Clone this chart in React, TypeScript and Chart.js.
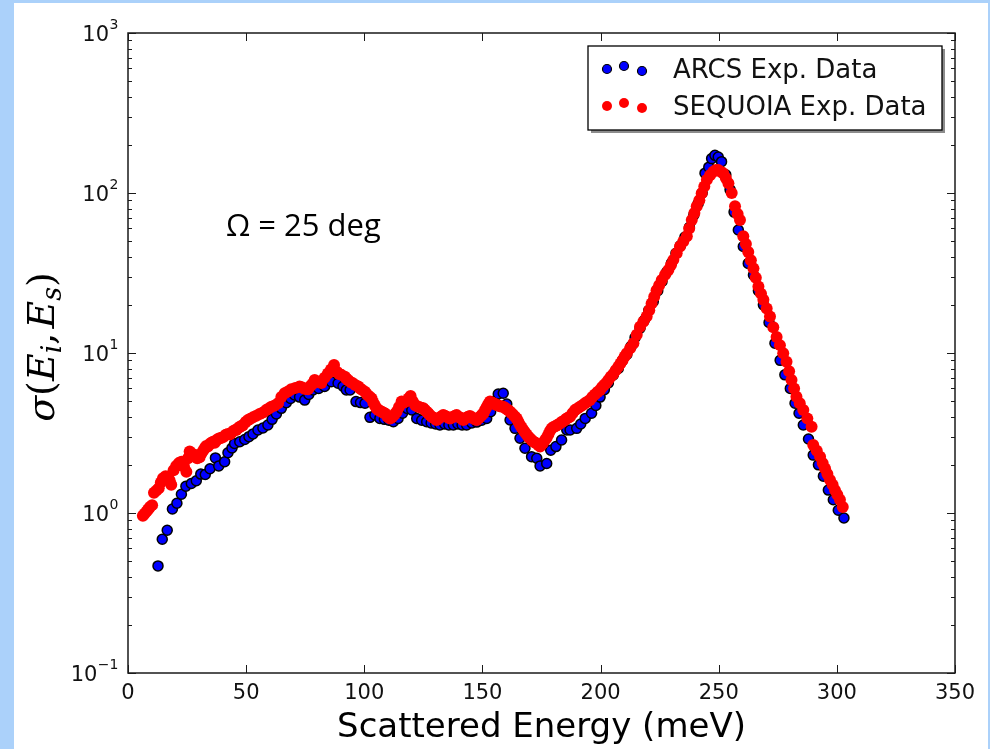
import React, { useEffect, useRef } from 'react';
import { Chart, registerables } from 'chart.js';

Chart.register(...registerables);

// ARCS experimental data (scattered energy meV, cross section)
const arcsEnergy = [
  12.7, 14.5, 16.6, 18.8, 20.7, 22.6, 24.5, 26.8, 28.9, 30.8, 32.7, 34.7, 37.0, 38.4, 40.9, 42.3, 44.0, 45.1, 47.3, 49.4,
  51.2, 52.9, 55.0, 57.1, 59.2, 61.0, 62.8, 64.9, 67.0, 68.8, 70.5, 72.6, 74.8, 76.5, 78.3, 80.7, 83.2, 86.0, 88.9, 91.0,
  92.4, 94.0, 96.5, 98.4, 100.3, 102.4, 104.5, 106.6, 108.5, 110.4, 112.3, 114.3, 116.2, 118.2, 120.1, 122.2, 124.3, 126.4, 128.3, 130.2,
  132.0, 134.0, 135.8, 137.7, 139.6, 141.4, 143.3, 145.5, 147.6, 149.7, 151.8, 153.5, 155.0, 156.7, 158.8, 160.3, 161.7, 163.8, 165.9, 168.0,
  170.8, 173.0, 174.4, 177.2, 178.9, 181.1, 183.5, 185.7, 187.1, 189.9, 191.6, 193.5, 196.2, 198.0, 199.8, 201.6, 203.3, 205.4, 207.5, 209.3,
  211.1, 212.9, 214.6, 216.7, 218.5, 220.4, 222.3, 224.2, 226.0, 228.0, 230.0, 231.9, 233.8, 235.7, 237.6, 239.5, 241.3, 243.0, 244.2, 245.8,
  247.0, 248.4, 249.8, 251.2, 253.0, 254.8, 256.5, 258.3, 260.4, 262.5, 264.7, 266.8, 268.9, 271.3, 273.8, 276.0, 278.0, 280.3, 282.3, 284.0,
  285.8, 288.0, 290.0, 292.2, 294.3, 296.4, 298.5, 300.6, 303.0,
];
const arcsSigma = [
  0.467, 0.685, 0.78, 1.06, 1.15, 1.31, 1.47, 1.53, 1.59, 1.75, 1.74, 1.89, 2.21, 1.97, 2.09, 2.38, 2.55, 2.72, 2.79, 2.88,
  3.0, 3.12, 3.3, 3.4, 3.55, 3.85, 4.16, 4.51, 4.89, 5.2, 5.46, 5.3, 5.08, 5.5, 5.88, 6.0, 6.17, 6.62, 6.47, 6.2,
  5.88, 5.88, 4.97, 4.9, 4.85, 3.96, 4.1, 3.9, 3.85, 3.8, 3.72, 3.9, 4.2, 4.5, 4.4, 3.9, 3.8, 3.72, 3.65, 3.6,
  3.55, 3.6, 3.55, 3.55, 3.6, 3.55, 3.55, 3.65, 3.7, 3.8, 3.9, 4.3, 5.0, 5.54, 5.6, 4.8, 3.81, 3.38, 2.93, 2.54,
  2.25, 2.2, 1.97, 2.04, 2.47, 2.6, 2.86, 3.3, 3.3, 3.38, 3.6, 3.9, 4.2, 4.7, 5.3, 5.9, 6.5, 7.3, 8.0, 9.0,
  9.8, 11.0, 12.5, 14.3, 16.0, 18.5, 21.0, 24.5, 28.0, 32.0, 36.5, 42.0, 47.0, 53.0, 61.0, 73.0, 86.0, 100.0, 133, 145,
  164, 172, 168, 157, 130, 105, 76, 58.7, 46.3, 36.3, 30.7, 24.5, 20.0, 15.5, 11.5, 9.0, 7.3, 6.0, 4.85, 4.2,
  3.55, 2.9, 2.3, 2.0, 1.7, 1.39, 1.21, 1.04, 0.93,
];

// SEQUOIA experimental data
const seqEnergy = [
  6.3, 7.0, 7.8, 8.5, 9.3, 10.2, 11.0, 12.0, 13.0, 13.9, 14.8, 15.9, 16.9, 17.6, 18.3, 19.3, 20.4, 21.5, 22.6, 23.7,
  24.7, 25.4, 26.1, 27.2, 28.2, 29.3, 30.3, 31.0, 31.8, 32.5, 33.1, 33.8, 34.6, 35.3, 36.0, 36.7, 37.4, 38.1, 38.8, 39.6,
  40.5, 41.4, 42.3, 43.2, 44.0, 44.9, 45.8, 46.5, 47.2, 48.0, 48.7, 49.8, 50.8, 51.8, 52.9, 54.3, 55.7, 57.1, 58.5, 59.6,
  60.7, 62.1, 63.5, 64.9, 66.3, 67.7, 69.1, 70.8, 72.6, 73.5, 74.5, 75.3, 76.2, 77.1, 78.0, 79.0, 80.4, 81.8, 83.2, 84.6,
  85.9, 87.2, 88.5, 89.4, 90.3, 91.8, 92.4, 93.1, 94.0, 95.0, 96.2, 97.5, 98.2, 99.0, 100.3, 101.0, 101.7, 102.4, 103.1, 103.8,
  104.5, 105.2, 105.9, 106.6, 107.3, 108.0, 108.8, 109.8, 110.9, 111.6, 112.3, 113.0, 113.7, 114.7, 115.8, 116.8, 117.8, 118.7, 119.6, 120.5,
  121.5, 122.3, 123.2, 124.1, 125.0, 125.7, 126.4, 127.1, 127.8, 128.5, 129.2, 129.9, 130.6, 131.3, 132.0, 132.7, 133.4, 134.1, 134.8, 135.5,
  136.3, 137.0, 137.7, 138.4, 139.1, 139.8, 140.5, 141.2, 141.9, 142.6, 143.3, 144.0, 144.7, 145.5, 146.2, 146.9, 147.6, 148.3, 149.0, 149.7,
  150.4, 151.1, 151.8, 152.5, 153.2, 153.9, 154.6, 155.3, 156.0, 156.7, 157.4, 158.1, 158.8, 159.5, 160.3, 161.0, 161.7, 162.4, 163.1, 163.8,
  164.5, 165.2, 165.9, 166.6, 167.3, 168.0, 168.7, 169.4, 170.1, 170.8, 171.5, 172.2, 173.0, 173.7, 174.4, 175.5, 176.5, 177.2, 177.9, 178.6,
  179.3, 180.1, 181.0, 181.9, 182.8, 183.5, 184.2, 185.0, 185.7, 186.4, 187.1, 188.1, 189.2, 190.2, 191.3, 192.3, 193.4, 194.4, 195.5, 196.5,
  197.6, 198.7, 199.8, 200.6, 201.5, 202.4, 203.3, 204.3, 205.4, 206.4, 207.5, 208.4, 209.3, 210.2, 211.1, 212.5, 213.9, 215.3, 216.7, 218.1,
  219.5, 220.6, 221.6, 222.7, 223.7, 224.8, 225.9, 227.3, 228.7, 229.8, 230.8, 232.2, 233.6, 235.0, 236.5, 237.5, 238.6, 239.7, 240.7, 241.8,
  242.8, 243.9, 245.0, 246.3, 247.7, 248.8, 249.8, 250.9, 251.9, 253.0, 254.1, 255.5, 256.9, 258.0, 259.0, 260.4, 261.5, 262.5, 263.6, 264.7,
  265.7, 266.8, 267.9, 268.9, 270.3, 271.7, 273.1, 274.5, 275.9, 277.3, 278.7, 279.8, 280.8, 281.9, 282.9, 284.3, 285.8, 287.5, 289.3, 290.0,
  291.5, 292.9, 294.0, 295.0, 296.0, 297.1, 298.2, 299.2, 300.2, 301.3, 302.5,
];
const seqSigma = [
  0.96, 0.99, 1.02, 1.05, 1.09, 1.12, 1.34, 1.38, 1.43, 1.55, 1.65, 1.7, 1.67, 1.6, 1.5, 1.85, 1.97, 2.05, 2.09, 1.95,
  1.81, 2.2, 2.42, 2.35, 2.3, 2.2, 2.23, 2.35, 2.45, 2.55, 2.62, 2.6, 2.7, 2.75, 2.79, 2.75, 2.85, 2.9, 2.93, 2.95,
  3.0, 3.08, 3.12, 3.1, 3.2, 3.28, 3.3, 3.38, 3.45, 3.5, 3.55, 3.7, 3.81, 3.88, 3.96, 4.05, 4.16, 4.25, 4.4, 4.5,
  4.62, 4.7, 4.85, 5.3, 5.6, 5.75, 5.93, 6.05, 6.17, 6.1, 6.0, 5.95, 5.93, 6.2, 6.4, 6.77, 6.6, 6.5, 7.0, 7.45,
  7.9, 8.41, 7.6, 7.4, 7.3, 7.1, 6.9, 6.77, 6.6, 6.5, 6.3, 6.17, 6.0, 5.9, 5.73, 5.55, 5.4, 5.3, 5.2, 4.9,
  4.7, 4.5, 4.4, 4.35, 4.3, 4.25, 4.19, 4.0, 3.9, 3.95, 4.05, 4.15, 4.3, 4.6, 4.97, 4.9, 5.0, 5.2, 5.38, 5.0,
  4.73, 4.65, 4.6, 4.55, 4.51, 4.4, 4.3, 4.2, 4.09, 4.0, 3.95, 3.88, 3.81, 3.88, 3.95, 4.02, 4.09, 4.05, 4.0, 3.95,
  3.9, 3.95, 4.0, 4.05, 4.09, 4.0, 3.95, 3.88, 3.81, 3.88, 3.95, 4.0, 4.04, 3.97, 3.9, 3.85, 3.81, 3.9, 4.0, 4.1,
  4.19, 4.4, 4.6, 4.8, 4.97, 4.9, 4.85, 4.8, 4.73, 4.7, 4.65, 4.63, 4.62, 4.55, 4.45, 4.38, 4.3, 4.2, 4.1, 4.0,
  3.9, 3.72, 3.55, 3.42, 3.3, 3.2, 3.1, 3.0, 2.93, 2.86, 2.8, 2.76, 2.72, 2.66, 2.6, 2.72, 2.86, 2.95, 3.1, 3.25,
  3.38, 3.45, 3.5, 3.56, 3.63, 3.7, 3.75, 3.82, 3.9, 3.95, 4.0, 4.2, 4.4, 4.5, 4.62, 4.72, 4.85, 4.95, 5.08, 5.3,
  5.5, 5.7, 5.88, 6.1, 6.3, 6.5, 6.77, 7.1, 7.4, 7.8, 8.2, 8.6, 9.0, 9.5, 9.97, 10.7, 11.5, 13.0, 14.6, 15.7,
  16.9, 18.5, 20.4, 22.5, 24.7, 26.5, 28.6, 30.8, 33.0, 35.5, 38.2, 42.0, 46.3, 49.8, 53.6, 60.0, 67.9, 75.0, 82.5, 90.0,
  99.8, 110, 121, 129, 136, 139, 139, 136, 133, 124, 115, 100, 82.5, 74, 67.9, 53.6, 48, 42.8, 38, 33.8,
  29.5, 26.0, 23.5, 21.5, 19.0, 16.9, 14.5, 12.6, 11.2, 9.97, 8.83, 7.7, 6.77, 6.0, 5.33, 4.85, 4.4, 3.9, 3.46, 2.66,
  2.45, 2.25, 2.05, 1.9, 1.75, 1.61, 1.5, 1.39, 1.3, 1.21, 1.09,
];

const xTickValues = [0, 50, 100, 150, 200, 250, 300, 350];
const yDecadeExponents = [-1, 0, 1, 2, 3];
const legendLabels = ['ARCS Exp. Data', 'SEQUOIA Exp. Data'];
const xAxisTitle = 'Scattered Energy (meV)';
const annotationText = 'Ω = 25 deg';

const ARCS_COLOR = '#0000ff';
const SEQ_COLOR = '#ff0000';
const AXIS_COLOR = '#1a1a1a';

const decorPlugin = {
  id: 'decor',
  afterDraw(chart: any) {
    const ctx: CanvasRenderingContext2D = chart.ctx;
    const { left, right, top, bottom } = chart.chartArea;
    const xs = chart.scales.x;
    const ys = chart.scales.y;
    ctx.save();

    // frame
    ctx.strokeStyle = AXIS_COLOR;
    ctx.lineWidth = 1.5;
    ctx.strokeRect(left, top, right - left, bottom - top);

    // x ticks (inward, bottom and top)
    ctx.lineWidth = 1;
    ctx.beginPath();
    for (const v of xTickValues) {
      const px = Math.round(xs.getPixelForValue(v)) + 0.5;
      ctx.moveTo(px, bottom);
      ctx.lineTo(px, bottom - 8);
      ctx.moveTo(px, top);
      ctx.lineTo(px, top + 8);
    }
    // y ticks, major and minor
    for (const e of yDecadeExponents) {
      const base = Math.pow(10, e);
      const py = Math.round(ys.getPixelForValue(base)) + 0.5;
      ctx.moveTo(left, py);
      ctx.lineTo(left + 8, py);
      ctx.moveTo(right, py);
      ctx.lineTo(right - 8, py);
      if (e < 3) {
        for (let m = 2; m <= 9; m++) {
          const pm = Math.round(ys.getPixelForValue(m * base)) + 0.5;
          ctx.moveTo(left, pm);
          ctx.lineTo(left + 4, pm);
          ctx.moveTo(right, pm);
          ctx.lineTo(right - 4, pm);
        }
      }
    }
    ctx.stroke();

    // y tick labels 10^n
    ctx.fillStyle = '#111';
    ctx.textBaseline = 'alphabetic';
    ctx.textAlign = 'left';
    for (const e of yDecadeExponents) {
      const py = ys.getPixelForValue(Math.pow(10, e));
      const expText = e < 0 ? '\u2212' + String(-e) : String(e);
      ctx.font = '21px "DejaVu Sans"';
      const wb = ctx.measureText('10').width;
      ctx.font = '14px "DejaVu Sans"';
      const we = ctx.measureText(expText).width;
      const xStart = left - 10 - wb - we;
      ctx.font = '21px "DejaVu Sans"';
      ctx.fillText('10', xStart, py + 8);
      ctx.font = '14px "DejaVu Sans"';
      ctx.fillText(expText, xStart + wb + 0.5, py - 4);
    }

    // y axis title: sigma(E_i, E_s)
    ctx.save();
    ctx.translate(54, (top + bottom) / 2 - 6);
    ctx.rotate(-Math.PI / 2);
    ctx.fillStyle = '#000';
    const big = 38;
    const small = 27;
    const parts: Array<[string, string, number]> = [
      ['σ', `italic ${big}px "DejaVu Serif"`, 0],
      ['(', `${big}px "DejaVu Serif"`, 0],
      ['E', `italic ${big}px "DejaVu Serif"`, 0],
      ['i', `italic ${small}px "DejaVu Serif"`, 7],
      [',', `${big}px "DejaVu Serif"`, 0],
      ['E', `italic ${big}px "DejaVu Serif"`, 0],
      ['s', `italic ${small}px "DejaVu Serif"`, 7],
      [')', `${big}px "DejaVu Serif"`, 0],
    ];
    let total = 0;
    const widths: number[] = [];
    for (const [t, f] of parts) {
      ctx.font = f;
      const w = ctx.measureText(t).width + (t === ',' ? 4 : 0);
      widths.push(w);
      total += w;
    }
    let cx = -total / 2;
    parts.forEach(([t, f, dy], i) => {
      ctx.font = f;
      ctx.fillText(t, cx, dy);
      cx += widths[i];
    });
    ctx.restore();

    // annotation
    ctx.fillStyle = '#000';
    ctx.font = '31px "Open Sans"';
    ctx.textAlign = 'left';
    ctx.fillText(annotationText, xs.getPixelForValue(41.5), ys.getPixelForValue(54));

    // legend
    const lx = 588, ly = 46, lw = 354, lh = 84;
    ctx.fillStyle = '#8c8c8c';
    ctx.fillRect(lx + 3, ly + 3, lw, lh);
    ctx.fillStyle = '#fff';
    ctx.fillRect(lx, ly, lw, lh);
    ctx.strokeStyle = '#000';
    ctx.lineWidth = 1.3;
    ctx.strokeRect(lx, ly, lw, lh);
    const markerXs = [607, 624, 642];
    const markerDy = [0, -3, 2];
    const rowsY = [69, 106];
    const rowColors = [ARCS_COLOR, SEQ_COLOR];
    rowsY.forEach((ry, r) => {
      markerXs.forEach((mx, k) => {
        ctx.beginPath();
        ctx.arc(mx, ry + markerDy[k], r === 0 ? 4.5 : 5, 0, Math.PI * 2);
        ctx.fillStyle = rowColors[r];
        ctx.fill();
        if (r === 0) {
          ctx.strokeStyle = '#000';
          ctx.lineWidth = 1.2;
          ctx.stroke();
        }
      });
      ctx.fillStyle = '#111';
      ctx.font = '26px "DejaVu Sans"';
      ctx.fillText(legendLabels[r], 673, ry + 9);
    });

    ctx.restore();
  },
};

export default function App() {
  const canvasRef = useRef<HTMLCanvasElement | null>(null);

  useEffect(() => {
    const canvas = canvasRef.current;
    if (!canvas) return;
    const chart = new Chart(canvas, {
      type: 'scatter',
      data: {
        datasets: [
          {
            label: legendLabels[1],
            data: seqEnergy.map((x, i) => ({ x, y: seqSigma[i] })),
            backgroundColor: SEQ_COLOR,
            borderColor: SEQ_COLOR,
            borderWidth: 0,
            pointRadius: 6,
            order: 0,
          },
          {
            label: legendLabels[0],
            data: arcsEnergy.map((x, i) => ({ x, y: arcsSigma[i] })),
            backgroundColor: ARCS_COLOR,
            borderColor: '#000000',
            borderWidth: 1.5,
            pointRadius: 5,
            order: 1,
          },
        ],
      },
      options: {
        responsive: false,
        animation: false,
        events: [],
        layout: { padding: { left: 0, top: 33, right: 35, bottom: 0 } },
        plugins: {
          legend: { display: false },
          tooltip: { enabled: false },
          title: { display: false },
        },
        scales: {
          x: {
            type: 'linear',
            position: 'bottom',
            min: 0,
            max: 350,
            grid: { display: false, drawTicks: false },
            border: { display: false },
            afterBuildTicks: (s: any) => {
              s.ticks = xTickValues.map((v) => ({ value: v }));
            },
            ticks: {
              color: '#111',
              font: { family: 'DejaVu Sans', size: 21 },
              padding: 8,
              maxRotation: 0,
              autoSkip: false,
            },
            title: {
              display: true,
              text: xAxisTitle,
              color: '#000',
              font: { family: 'DejaVu Sans', size: 34 },
              padding: { top: 0, bottom: 0 },
            },
            afterFit: (s: any) => {
              s.height = 76;
            },
          },
          y: {
            type: 'logarithmic',
            min: 0.1,
            max: 1000,
            grid: { display: false },
            border: { display: false },
            ticks: { display: false },
            afterFit: (s: any) => {
              s.width = 128;
            },
          },
        },
      } as any,
      plugins: [decorPlugin],
    });
    return () => chart.destroy();
  }, []);

  return (
    <div style={{ position: 'absolute', left: 0, top: 0, width: 990, height: 749, background: '#abd1fa', overflow: 'hidden' }}>
      <div style={{ position: 'absolute', left: 14, top: 3, width: 974, height: 746, background: '#ffffff' }} />
      <canvas ref={canvasRef} width={990} height={749} style={{ position: 'absolute', left: 0, top: 0, display: 'block' }} />
    </div>
  );
}
